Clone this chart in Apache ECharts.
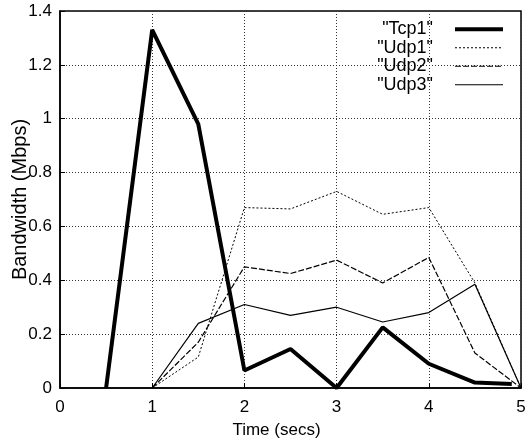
<!DOCTYPE html>
<html>
<head>
<meta charset="utf-8">
<script src="https://cdn.jsdelivr.net/npm/echarts@6/dist/echarts.min.js"></script>
<style>html,body{margin:0;padding:0;background:#fff}#c{width:525px;height:443px}</style>
</head>
<body>
<div id="c"></div>
<script>
const seriesNames = ['"Tcp1"', '"Udp1"', '"Udp2"', '"Udp3"'];
const tcpTimes = [0.5, 1, 1.5, 2, 2.5, 3, 3.5, 4, 4.5, 4.9];
const tcp1 = [0, 1.33, 0.98, 0.065, 0.145, 0, 0.225, 0.09, 0.02, 0.015];
const udpTimes = [1, 1.5, 2, 2.5, 3, 3.5, 4, 4.5, 5];
const udp1 = [0, 0.115, 0.67, 0.665, 0.73, 0.645, 0.67, 0.39, 0];
const udp2 = [0, 0.17, 0.45, 0.425, 0.475, 0.39, 0.485, 0.13, 0];
const udp3 = [0, 0.24, 0.31, 0.27, 0.30, 0.245, 0.28, 0.385, 0];
const xTicks = [0, 1, 2, 3, 4, 5];
const yTicks = [0, 0.2, 0.4, 0.6, 0.8, 1, 1.2, 1.4];

const zip = (xs, ys) => xs.map((x, i) => [x, ys[i]]);
const font = 'Liberation Sans, Arial, sans-serif';
const lineWidths = [4, 1, 1.2, 1.2];
const lineTypes = ['solid', [2, 2], [6, 2], 'solid'];

const chart = echarts.init(document.getElementById('c'), null, {renderer: 'canvas'});
chart.setOption({
  animation: false,
  backgroundColor: '#fff',
  grid: {left: 60, right: 4, top: 11, bottom: 55, containLabel: false, outerBoundsMode: 'none',
    show: true, borderColor: '#000', borderWidth: 1.5},
  legend: {
    orient: 'vertical', right: 15, top: 15, align: 'right',
    itemWidth: 48, itemHeight: 12, itemGap: 0,
    itemStyle: {opacity: 0},
    formatter: n => n + '{g| }',
    textStyle: {fontSize: 18, lineHeight: 18.5, fontFamily: font, color: '#000',
      rich: {g: {width: 17, fontSize: 18, lineHeight: 18.5}}},
    data: seriesNames.map((n, i) => ({name: n, lineStyle: {width: lineWidths[i], type: lineTypes[i], color: '#000'}}))
  },
  xAxis: {
    type: 'value', min: xTicks[0], max: xTicks[xTicks.length - 1], interval: 1,
    name: 'Time (secs)', nameLocation: 'middle', nameGap: 34, nameMoveOverlap: false,
    nameTextStyle: {fontSize: 17, fontFamily: font, color: '#000', padding: [0, 28, 0, 0]},
    axisLine: {show: true, lineStyle: {color: '#000', width: 1.5}},
    axisTick: {inside: true, length: 5, lineStyle: {color: '#000'}},
    axisLabel: {fontSize: 17, fontFamily: font, color: '#000', margin: 11},
    splitLine: {show: true, lineStyle: {type: [1, 2], color: '#333', width: 1}}
  },
  yAxis: {
    type: 'value', min: yTicks[0], max: yTicks[yTicks.length - 1], interval: 0.2,
    name: 'Bandwidth (Mbps)', nameLocation: 'middle', nameGap: 30, nameMoveOverlap: false,
    nameTextStyle: {fontSize: 20, fontFamily: font, color: '#000'},
    axisLine: {show: true, lineStyle: {color: '#000', width: 1.5}},
    axisTick: {inside: true, length: 5, lineStyle: {color: '#000'}},
    axisLabel: {fontSize: 17, fontFamily: font, color: '#000', margin: 8,
      formatter: v => String(Math.round(v * 10) / 10)},
    splitLine: {show: true, lineStyle: {type: [1, 2], color: '#333', width: 1}}
  },
  series: [
    {name: seriesNames[0], type: 'line', symbol: 'none', data: zip(tcpTimes, tcp1),
     lineStyle: {color: '#000', width: lineWidths[0], type: lineTypes[0]}, itemStyle: {color: '#000'}, z: 5},
    {name: seriesNames[1], type: 'line', symbol: 'none', data: zip(udpTimes, udp1),
     lineStyle: {color: '#000', width: lineWidths[1], type: lineTypes[1]}, itemStyle: {color: '#000'}},
    {name: seriesNames[2], type: 'line', symbol: 'none', data: zip(udpTimes, udp2),
     lineStyle: {color: '#000', width: lineWidths[2], type: lineTypes[2]}, itemStyle: {color: '#000'}},
    {name: seriesNames[3], type: 'line', symbol: 'none', data: zip(udpTimes, udp3),
     lineStyle: {color: '#000', width: lineWidths[3], type: lineTypes[3]}, itemStyle: {color: '#000'}}
  ]
});
</script>
</body>
</html>
